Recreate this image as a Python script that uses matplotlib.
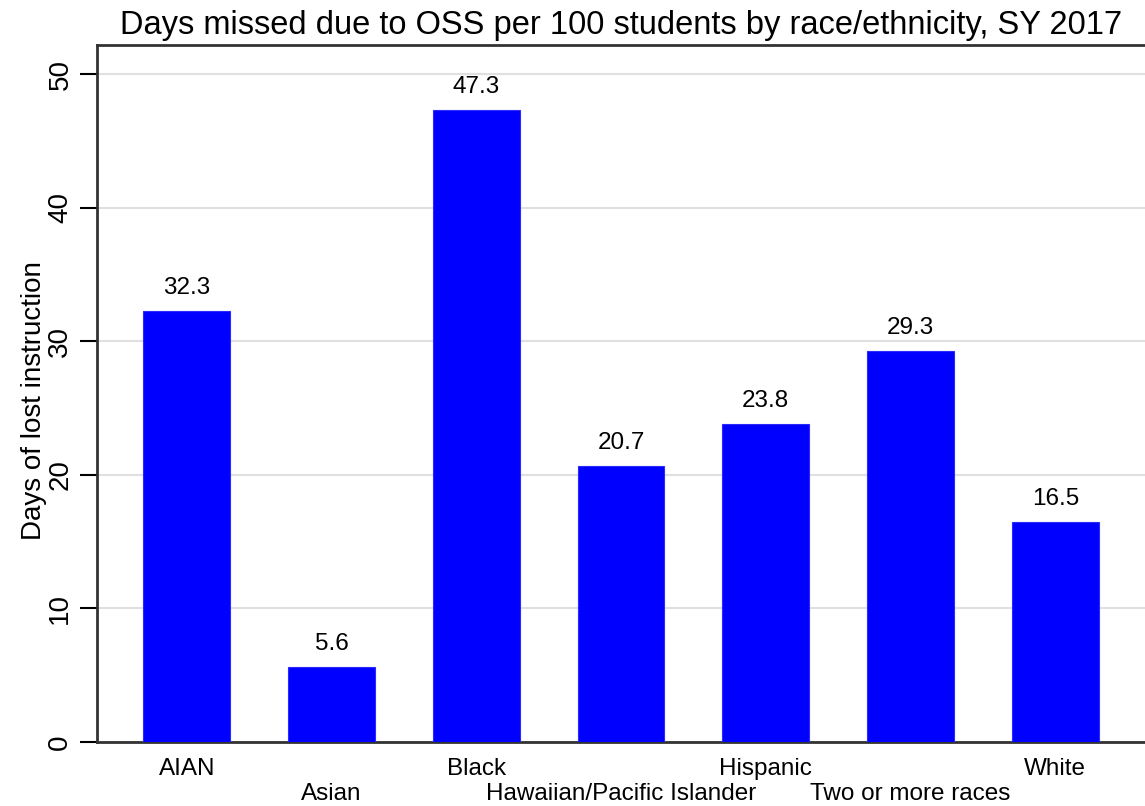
import matplotlib.pyplot as plt

# данные
groups = ["AIAN", "Asian", "Black", "Hawaiian/Pacific Islander", "Hispanic",
          "Two or more races", "White"]
days = [32.3, 5.6, 47.3, 20.7, 23.8, 29.3, 16.5]
yticks = [0, 10, 20, 30, 40, 50]

plt.rcParams['font.family'] = ['Liberation Sans', 'DejaVu Sans']

fig = plt.figure(figsize=(11.45, 8.06), dpi=100)
ax = fig.add_axes([0.0847, 0.0794, 0.9153, 0.8647])

x = list(range(len(groups)))
bars = ax.bar(x, days, width=0.6, color="#0000ff", edgecolor="#2a2aff", linewidth=0.8, zorder=3)

for xi, v in zip(x, days):
    ax.text(xi, v + 0.9, f"{v:.1f}", ha="center", va="bottom", fontsize=17.5)

ax.set_xlim(-0.62, 6.62)
ax.set_ylim(0, 52.2)
ax.set_yticks(yticks)
ax.set_yticklabels([str(t) for t in yticks], rotation=90, va="center", fontsize=20)
ax.tick_params(axis="y", length=12, width=1.5, pad=5)
ax.tick_params(axis="x", length=0)
ax.set_xticks(x)
ax.set_xticklabels([])
# подписи в два ряда
for xi, g in zip(x, groups):
    off = -2.0 if xi % 2 == 0 else -3.9
    ax.text(xi, off, g, ha="center", va="center", fontsize=17.5)

ax.grid(axis="y", color="#e0e0e0", linewidth=1.5, zorder=0)
for s in ax.spines.values():
    s.set_linewidth(2)
    s.set_color("#333333")
ax.spines["right"].set_visible(False)

ax.set_ylabel("Days of lost instruction", fontsize=20, labelpad=0)
ax.yaxis.set_label_coords(-0.048, 0.49)
ax.set_title("Days missed due to OSS per 100 students by race/ethnicity, SY 2017",
             fontsize=23.5, pad=8)

plt.savefig("out.png")
plt.close()
